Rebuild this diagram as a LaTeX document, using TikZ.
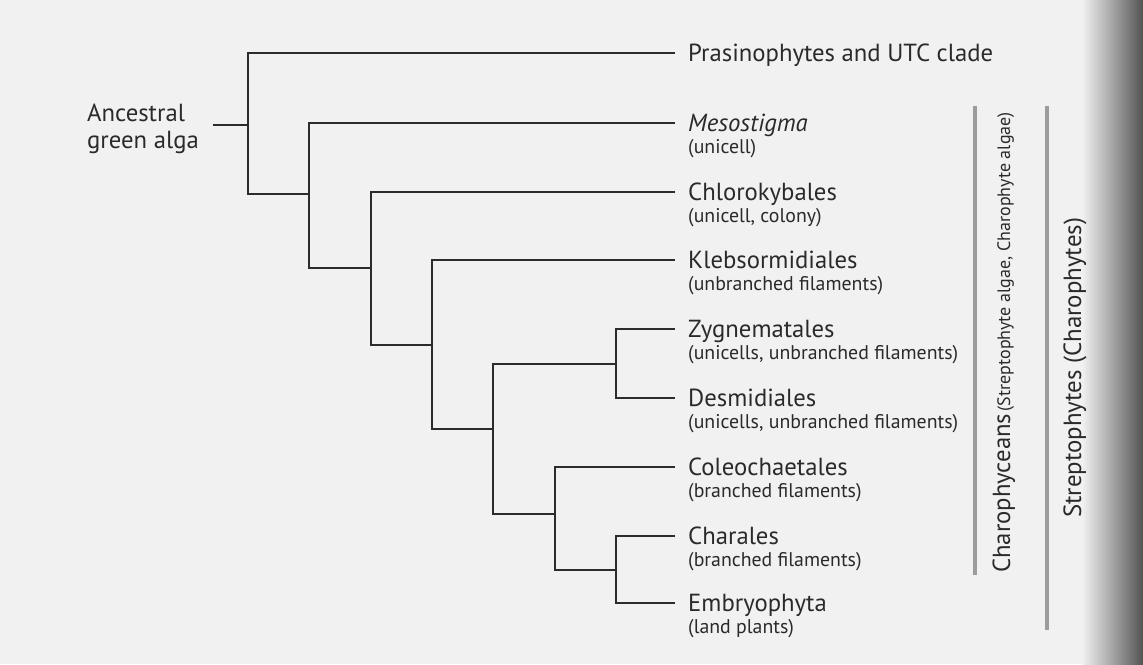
\documentclass[tikz,border=0pt]{standalone}
\usepackage{fontspec}
\setmainfont{PT Sans}
\usetikzlibrary{calc}
\definecolor{bgcol}{HTML}{F1F1F1}
\definecolor{txt}{HTML}{2A2A2A}
\definecolor{linecol}{HTML}{2C2C2C}
\definecolor{barcol}{HTML}{9C9C9C}
\newlength\fitw
\begin{document}
\settowidth\fitw{\fontsize{10pt}{12pt}\selectfont Prasinophytes and UTC clade}%
\pgfmathsetmacro\mainsz{10*305/\fitw}%
\settowidth\fitw{\fontsize{10pt}{12pt}\selectfont (unicells, unbranched filaments)}%
\pgfmathsetmacro\subsz{10*270/\fitw}%
\settowidth\fitw{\fontsize{10pt}{12pt}\selectfont Charophyceans}%
\pgfmathsetmacro\bigsz{10*159/\fitw}%
\settowidth\fitw{\fontsize{10pt}{12pt}\selectfont (Streptophyte algae, Charophyte algae)}%
\pgfmathsetmacro\smallsz{10*299/\fitw}%
\settowidth\fitw{\fontsize{10pt}{12pt}\selectfont Streptophytes (Charophytes)}%
\pgfmathsetmacro\strsz{10*300/\fitw}%
\begin{tikzpicture}[x=1pt,y=-1pt]
\tikzset{
  branch/.style={draw=linecol, line width=2.4pt},
  cladebar/.style={draw=barcol, line width=4pt},
  mainlbl/.style={anchor=base west, inner sep=0pt, text=txt, font=\fontsize{\mainsz pt}{\mainsz pt}\selectfont},
  sublbl/.style={anchor=base west, inner sep=0pt, text=txt, font=\fontsize{\subsz pt}{\subsz pt}\selectfont},
  rotlbl/.style={anchor=base west, inner sep=0pt, text=txt, rotate=90}
}
\useasboundingbox (0,0) rectangle (1143,664);
\fill[bgcol] (0,0) rectangle (1143,664);
\shade[left color=bgcol, right color=black!35] (1082,0) rectangle (1112,664);
\shade[left color=black!35, right color=black!68] (1112,0) rectangle (1143.5,664);

% tree coordinates
\coordinate (root) at (213,125);
\coordinate (n1) at (248,125);
\coordinate (n2) at (309,194);
\coordinate (n3) at (371,268);
\coordinate (n4) at (432,345);
\coordinate (n5) at (493,429);
\coordinate (n6) at (616,364);
\coordinate (n7) at (555,514);
\coordinate (n8) at (616,570);
\coordinate (tP) at (675,53);
\coordinate (tM) at (675,123);
\coordinate (tCh) at (675,192);
\coordinate (tK) at (675,260);
\coordinate (tZ) at (675,329);
\coordinate (tD) at (675,398);
\coordinate (tCo) at (675,467);
\coordinate (tCa) at (675,536);
\coordinate (tE) at (675,603);

\draw[branch] (root) -- (n1);
\draw[branch] (n1) |- (tP);
\draw[branch] (n1) |- (n2);
\draw[branch] (n2) |- (tM);
\draw[branch] (n2) |- (n3);
\draw[branch] (n3) |- (tCh);
\draw[branch] (n3) |- (n4);
\draw[branch] (n4) |- (tK);
\draw[branch] (n4) |- (n5);
\draw[branch] (n5) |- (n6);
\draw[branch] (n5) |- (n7);
\draw[branch] (n6) |- (tZ);
\draw[branch] (n6) |- (tD);
\draw[branch] (n7) |- (tCo);
\draw[branch] (n7) |- (n8);
\draw[branch] (n8) |- (tCa);
\draw[branch] (n8) |- (tE);

% root label
\node[mainlbl] (ancA) at (87,121) {Ancestral};
\node[mainlbl] (ancB) at (87,148) {green alga};

% leaf labels
\node[mainlbl] (lP) at (688,61.5) {Prasinophytes and UTC clade};
\node[mainlbl] (lM) at (688,131.5) {\itshape Mesostigma};
\node[sublbl] (sM) at (688,153) {(unicell)};
\node[mainlbl] (lCh) at (688,200.5) {Chlorokybales};
\node[sublbl] (sCh) at (688,222) {(unicell, colony)};
\node[mainlbl] (lK) at (688,268.5) {Klebsormidiales};
\node[sublbl] (sK) at (688,290) {(unbranched filaments)};
\node[mainlbl] (lZ) at (688,337.5) {Zygnematales};
\node[sublbl] (sZ) at (688,359) {(unicells, unbranched filaments)};
\node[mainlbl] (lD) at (688,406.5) {Desmidiales};
\node[sublbl] (sD) at (688,428) {(unicells, unbranched filaments)};
\node[mainlbl] (lCo) at (688,475.5) {Coleochaetales};
\node[sublbl] (sCo) at (688,497) {(branched filaments)};
\node[mainlbl] (lCa) at (688,544.5) {Charales};
\node[sublbl] (sCa) at (688,566) {(branched filaments)};
\node[mainlbl] (lE) at (688,611.5) {Embryophyta};
\node[sublbl] (sE) at (688,633) {(land plants)};

% clade bars
\coordinate (b1t) at (975,106);
\coordinate (b1b) at (975,575);
\coordinate (b2t) at (1047,106);
\coordinate (b2b) at (1047,630);
\draw[cladebar] (b1t) -- (b1b);
\draw[cladebar] (b2t) -- (b2b);
\node[rotlbl] (charo) at (1010,573) {{\fontsize{\bigsz pt}{\bigsz pt}\selectfont Charophyceans} {\fontsize{\smallsz pt}{\smallsz pt}\selectfont (Streptophyte algae, Charophyte algae)}};
\node[rotlbl] (strep) at (1081,518) {\fontsize{\strsz pt}{\strsz pt}\selectfont Streptophytes (Charophytes)};
\end{tikzpicture}
\end{document}
